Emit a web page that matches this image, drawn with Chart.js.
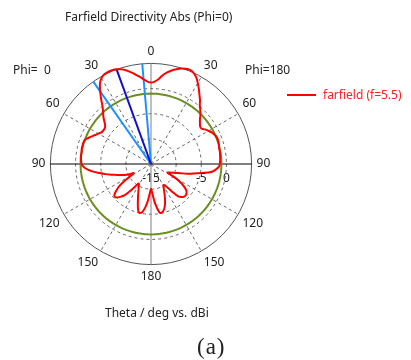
<!DOCTYPE html>
<html>
<head>
<meta charset="utf-8">
<script src="https://cdn.jsdelivr.net/npm/chart.js@4.4.1/dist/chart.umd.min.js"></script>
<style>
    body { margin: 0; background: #fff; }
    #wrap { position: relative; width: 411px; height: 360px; font-family: "Noto Sans", sans-serif; font-size: 12px; color: #222; }
    #wrap canvas { position: absolute; left: 0; top: 0; }
    .txt { position: absolute; white-space: pre; line-height: 16px; }
</style>
</head>
<body>
<div id="wrap">
    <canvas id="myChart" width="411" height="360"></canvas>
    <div class="txt" style="left:65px;top:9px">Farfield Directivity Abs (Phi=0)</div>
    <div class="txt" style="left:13px;top:62px">Phi=  0</div>
    <div class="txt" style="left:245px;top:62px">Phi=180</div>
    <div style="position:absolute;left:287px;top:94px;width:29px;height:2px;background:#ff0000"></div>
    <div class="txt" style="left:323px;top:87px;color:#ff2020">farfield (f=5.5)</div>
    <div class="txt" style="left:105px;top:305px">Theta / deg vs. dBi</div>
    <div class="txt" style="left:197px;top:334px;font-family:'Liberation Serif',serif;font-size:23px;line-height:26px;letter-spacing:1px">(a)</div>
</div>
<script>
// theta, clockwise from the top, every 2.5 deg
var theta = [0, 2.5, 5, 7.5, 10, 12.5, 15, 17.5, 20, 22.5, 25, 27.5, 30, 32.5, 35, 37.5, 40, 42.5,
    45, 47.5, 50, 52.5, 55, 57.5, 60, 62.5, 65, 67.5, 70, 72.5, 75, 77.5, 80, 82.5, 85, 87.5,
    90, 92.5, 95, 97.5, 100, 102.5, 105, 107.5, 110, 112.5, 115, 117.5, 120, 122.5, 125, 127.5, 130, 132.5,
    135, 137.5, 140, 142.5, 145, 147.5, 150, 152.5, 155, 157.5, 160, 162.5, 165, 167.5, 170, 172.5, 175, 177.5,
    180, 182.5, 185, 187.5, 190, 192.5, 195, 197.5, 200, 202.5, 205, 207.5, 210, 212.5, 215, 217.5, 220, 222.5,
    225, 227.5, 230, 232.5, 235, 237.5, 240, 242.5, 245, 247.5, 250, 252.5, 255, 257.5, 260, 262.5, 265, 267.5,
    270, 272.5, 275, 277.5, 280, 282.5, 285, 287.5, 290, 292.5, 295, 297.5, 300, 302.5, 305, 307.5, 310, 312.5,
    315, 317.5, 320, 322.5, 325, 327.5, 330, 332.5, 335, 337.5, 340, 342.5, 345, 347.5, 350, 352.5, 355, 357.5];

// directivity in dBi
var farfield = [1.2, 1.4, 1.9, 2.8, 3.5, 4.05, 4.5, 4.9, 5.15, 5.25, 5.0, 4.45, 3.6, 2.7, 1.8, 1.0, 0.1, -0.5,
    -1.1, -1.8, -2.3, -2.7, -2.75, -2.2, -1.8, -1.4, -1.1, -0.9, -0.85, -0.9, -1.0, -1.1, -1.1, -1.15, -1.2, -1.25,
    -1.3, -1.5, -2.1, -2.9, -4.8, -6.3, -7.6, -8.9, -9.8, -10.5, -11.0, -11.3, -9.2, -7.8, -6.8, -6.1, -5.8, -5.7,
    -5.8, -6.1, -6.6, -8.0, -9.3, -10.0, -10.1, -9.5, -8.7, -7.8, -6.8, -6.0, -5.4, -5.1, -5.2, -6.3, -7.7, -9.2,
    -10.1, -9.1, -7.6, -6.3, -5.4, -5.0, -5.3, -6.3, -7.4, -8.3, -9.1, -9.7, -10.2, -10.4, -9.6, -8.3, -7.0, -6.2,
    -5.6, -5.3, -5.5, -6.3, -7.3, -8.8, -10.6, -11.1, -10.1, -9.3, -8.6, -7.8, -6.8, -5.7, -4.6, -3.4, -2.4, -1.6,
    -1.2, -1.1, -1.0, -1.0, -1.0, -0.9, -0.9, -0.9, -1.0, -1.5, -2.0, -2.5, -2.9, -3.3, -3.4, -3.4, -3.1, -2.4,
    -1.6, -0.9, 0.0, 1.3, 2.6, 3.9, 4.7, 5.1, 5.2, 5.2, 5.05, 4.75, 4.3, 3.7, 3.1, 2.5, 1.9, 1.4];

var greenLevel = -1.0;          // green reference circle
var mainLobe = 340;             // main lobe direction
var beamEdges = [325, 355];     // -3 dB beam width lines

var rMin = -15;
var rMax = 5;
var rStep = 5;
var ringLabels = [-15, -5, 0];

function beamLine(angle) {
    // one point on the outer ring, one at the centre
    return theta.map(function(t) {
        if (t === angle) return rMax;
        if (t === (angle + 180) % 360) return rMin;
        return null;
    });
}

var tickText = {
    id: 'tickText',
    afterDatasetsDraw: function(chart) {
        var s = chart.scales.r;
        var ctx = chart.ctx;
        ctx.save();
        ctx.font = '12px "Noto Sans"';
        ctx.fillStyle = '#222';
        ctx.textAlign = 'center';
        ctx.textBaseline = 'middle';
        for (var i = 0; i < ringLabels.length; i++) {
            var d = s.getDistanceFromCenterForValue(ringLabels[i]);
            ctx.fillText(String(ringLabels[i]), s.xCenter + d, s.yCenter + 15);
        }
        ctx.restore();
    }
};

var lineDefaults = { pointRadius: 0, fill: false, spanGaps: true };

var chartdata = {
    labels: theta,
    datasets: [
        Object.assign({ label: 'farfield (f=5.5)', data: farfield, borderColor: '#ff0000', borderWidth: 2, tension: 0.3 }, lineDefaults),
        Object.assign({ label: 'main', data: beamLine(mainLobe), borderColor: '#1010c8', borderWidth: 2 }, lineDefaults),
        Object.assign({ label: 'edge1', data: beamLine(beamEdges[0]), borderColor: '#2090ff', borderWidth: 2 }, lineDefaults),
        Object.assign({ label: 'edge2', data: beamLine(beamEdges[1]), borderColor: '#2090ff', borderWidth: 2 }, lineDefaults),
        Object.assign({ label: 'level', data: theta.map(function() { return greenLevel; }), borderColor: '#6b8e23', borderWidth: 2 }, lineDefaults)
    ]
};

var ctx = document.getElementById('myChart');
var radar = new Chart(ctx, {
    type: 'radar',
    data: chartdata,
    plugins: [tickText],
    options: {
        responsive: false,
        animation: false,
        layout: { padding: { left: 31, top: 44, right: 140, bottom: 76 } },
        plugins: { legend: { display: false }, tooltip: { enabled: false } },
        scales: {
            r: {
                min: rMin,
                max: rMax,
                ticks: { display: false, stepSize: rStep },
                grid: {
                    circular: true,
                    lineWidth: 1,
                    color: function(c) {
                        if (c.tick.value === rMin) return 'rgba(0,0,0,0)';
                        return c.tick.value === rMax ? '#555' : '#666';
                    }
                },
                border: {
                    dash: function(c) { return c.tick && c.tick.value === rMax ? [] : [3, 3]; }
                },
                angleLines: {
                    lineWidth: function(c) { return theta[c.index] % 30 === 0 ? 1 : 0; },
                    color: function(c) {
                        var t = theta[c.index];
                        if (t === 90 || t === 270) return '#000';
                        if (t === 0 || t === 180) return '#808080';
                        return '#666';
                    },
                    borderDash: function(c) { return theta[c.index] % 90 === 0 ? [] : [3, 3]; }
                },
                pointLabels: {
                    padding: 5,
                    color: '#222',
                    font: { family: 'Noto Sans', size: 12 },
                    callback: function(label) {
                        if (label % 30 !== 0) return '';
                        return String(label <= 180 ? label : 360 - label);
                    }
                }
            }
        }
    }
});
</script>
</body>
</html>
